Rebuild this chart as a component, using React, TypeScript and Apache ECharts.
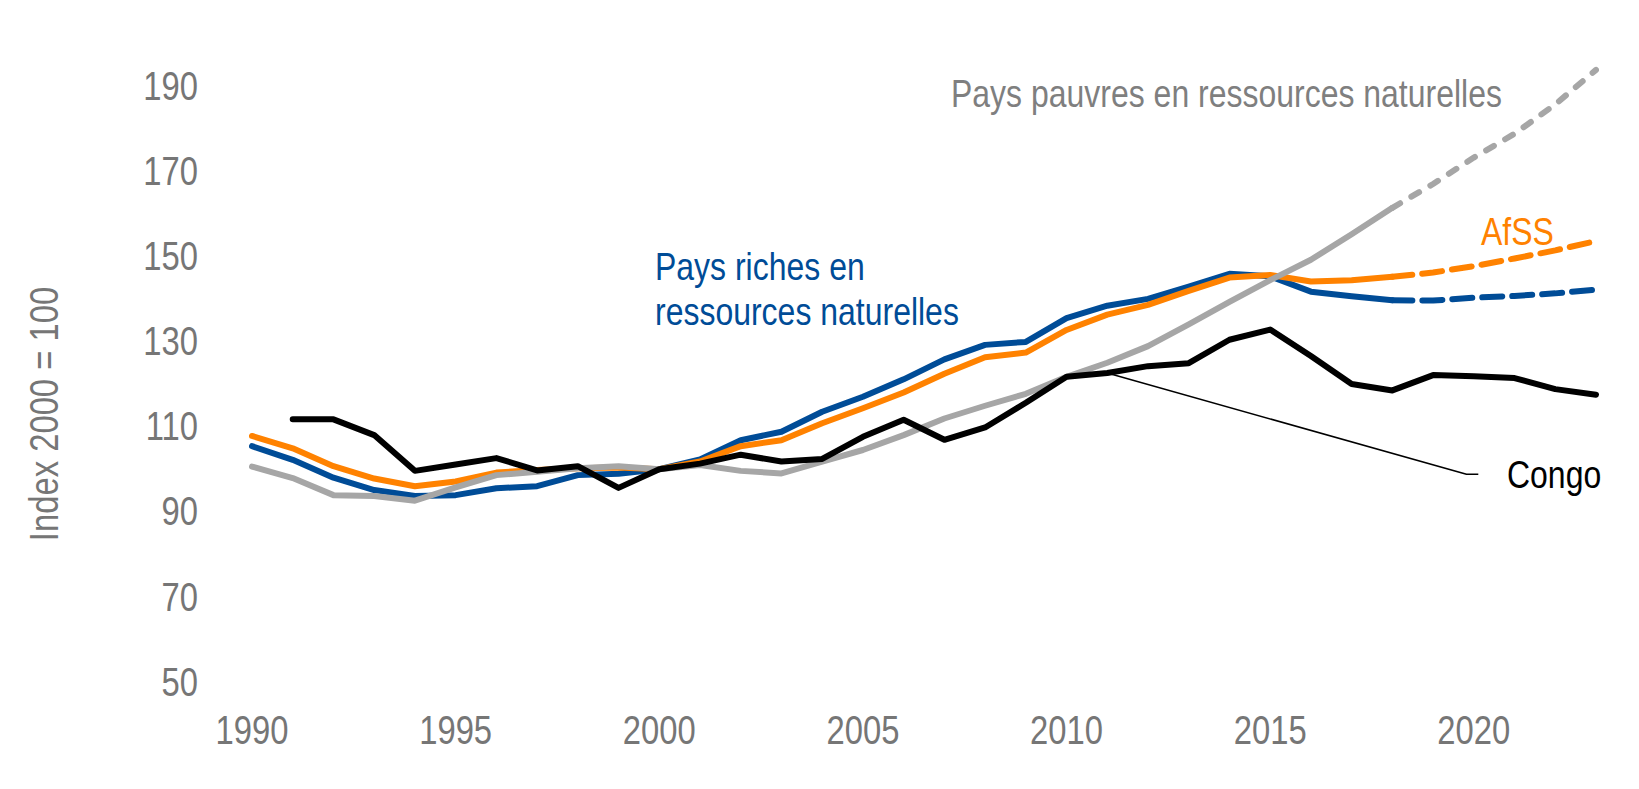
import React, { useEffect, useRef } from "react";
import * as echarts from "echarts";

const years: number[] = [];
for (let y = 1990; y <= 2023; y++) years.push(y);

// Tick labels
const xTickLabels = [1990, 1995, 2000, 2005, 2010, 2015, 2020];
const yTickLabels = [50, 70, 90, 110, 130, 150, 170, 190];

// Pays riches en ressources naturelles (1990-2018 observed, 2018-2023 projection)
const richesObs = [105.4, 102.2, 98.0, 95.1, 93.7, 93.9, 95.5, 96.0, 98.6, 98.9, 100, 102.3, 106.8, 108.8, 113.5, 117.0, 121.1, 125.8, 129.2, 129.9, 135.5, 138.4, 140.0, 142.9, 145.9, 145.3, 141.7, 140.6, 139.7];
const richesProj = [139.7, 139.6, 140.3, 140.7, 141.3, 142.2];

// AfSS
const afssObs = [107.8, 104.9, 100.7, 97.8, 96.0, 97.1, 99.2, 99.8, 100.2, 100.4, 100, 101.8, 105.4, 106.8, 110.8, 114.3, 118.0, 122.4, 126.3, 127.4, 132.7, 136.3, 138.6, 141.9, 145.0, 145.6, 144.1, 144.4, 145.2];
const afssProj = [145.2, 146.2, 147.7, 149.5, 151.4, 153.6];

// Pays pauvres en ressources naturelles
const pauvresObs = [100.6, 97.9, 93.9, 93.7, 92.6, 95.7, 98.6, 99.4, 100.2, 100.7, 100, 101.0, 99.6, 99.0, 101.8, 104.5, 108.0, 111.9, 114.9, 117.7, 121.7, 125.0, 128.9, 134.0, 139.3, 144.4, 149.2, 155.2, 161.4];
const pauvresProj = [161.4, 167.0, 173.2, 178.8, 185.7, 193.8];

// Congo (from 1991)
const congo = [null, 111.7, 111.7, 108.0, 99.6, 101.1, 102.6, 99.7, 100.7, 95.6, 100, 101.3, 103.4, 101.8, 102.4, 107.6, 111.6, 106.9, 109.8, 115.6, 121.7, 122.6, 124.2, 124.9, 130.4, 132.8, 126.6, 120.0, 118.5, 122.1, 121.8, 121.4, 118.8, 117.5];

// Leader line for the Congo label (data coordinates)
const congoLeader = [[2011, 122.6], [2019.82, 98.8], [2020.11, 98.8]];

const PROJ_START = 2018;

const FONT = "'Liberation Sans', Arial, sans-serif";
const NARROW = 0.82;
const BLUE = "#004C97";
const ORANGE = "#FF8200";
const GREY = "#A6A6A6";
const TEXT_GREY = "#767676";

function obsPairs(vals: (number | null)[]) {
  return vals.map((v, i) => [years[i], v]);
}
function projPairs(vals: number[]) {
  return vals.map((v, i) => [PROJ_START + i, v]);
}

function narrowText(
  text: string,
  x: number,
  y: number,
  size: number,
  fill: string,
  align: string,
  extra: any = {}
) {
  return {
    type: "text",
    x,
    y,
    scaleX: NARROW,
    silent: true,
    ...extra,
    style: {
      text,
      x: 0,
      y: 0,
      fill,
      font: `${size}px ${FONT}`,
      align,
      verticalAlign: "middle",
    },
  };
}

export default function App() {
  const ref = useRef<HTMLDivElement>(null);
  useEffect(() => {
    if (!ref.current) return;
    const chart = echarts.init(ref.current, undefined, { renderer: "svg" });
    const solid = (name: string, color: string, data: any[], width: number) => ({
      name,
      type: "line",
      data,
      showSymbol: false,
      symbol: "none",
      lineStyle: { color, width, cap: "round", join: "round" },
      z: 2,
    });
    const dashed = (name: string, color: string, data: any[], width: number, dash: number[]) => ({
      name,
      type: "line",
      data,
      showSymbol: false,
      symbol: "none",
      lineStyle: { color, width, type: dash, cap: "round", join: "round" },
      z: 2,
    });
    chart.setOption({
      animation: false,
      backgroundColor: "#ffffff",
      textStyle: { fontFamily: FONT },
      grid: { left: 252, right: 43, top: 43.5, bottom: 107, containLabel: false },
      xAxis: {
        type: "value",
        min: 1990,
        max: 2023,
        interval: 5,
        axisLine: { show: false },
        axisTick: { show: false },
        splitLine: { show: false },
        axisLabel: { show: false },
      },
      yAxis: {
        type: "value",
        min: 50,
        max: 200,
        interval: 10,
        axisLine: { show: false },
        axisTick: { show: false },
        splitLine: { show: false },
        axisLabel: { show: false },
      },
      series: [
        solid("Pays riches en ressources naturelles", BLUE, obsPairs(richesObs), 6),
        dashed("Pays riches (projection)", BLUE, projPairs(richesProj), 6, [20, 10]),
        solid("AfSS", ORANGE, obsPairs(afssObs), 6),
        dashed("AfSS (projection)", ORANGE, projPairs(afssProj), 6, [20, 10]),
        solid("Pays pauvres en ressources naturelles", GREY, obsPairs(pauvresObs), 6),
        dashed("Pays pauvres (projection)", GREY, projPairs(pauvresProj), 6, [9, 13]),
        solid("Congo", "#000000", obsPairs(congo), 6),
        {
          name: "Congo leader",
          type: "line",
          data: congoLeader,
          showSymbol: false,
          symbol: "none",
          lineStyle: { color: "#000000", width: 1.5 },
          z: 1,
        },
      ],
    });

    // Axis tick labels placed through the chart's own scales
    const graphics: any[] = [];
    xTickLabels.forEach((t) => {
      const p = chart.convertToPixel({ gridIndex: 0 }, [t, 50]) as number[];
      graphics.push(narrowText(String(t), p[0], p[1] + 48, 40, TEXT_GREY, "center"));
    });
    yTickLabels.forEach((t) => {
      const p = chart.convertToPixel({ gridIndex: 0 }, [1990, t]) as number[];
      graphics.push(narrowText(String(t), p[0] - 54, p[1], 40, TEXT_GREY, "right"));
    });
    // Axis title
    graphics.push(
      narrowText("Index 2000 = 100", 44, 414, 40, TEXT_GREY, "center", { rotation: Math.PI / 2 })
    );
    // Annotations
    graphics.push(narrowText("Pays pauvres en ressources naturelles", 951, 94, 39, "#7F7F7F", "left"));
    graphics.push(narrowText("Pays riches en", 655, 266.5, 39, BLUE, "left"));
    graphics.push(narrowText("ressources naturelles", 655, 311.5, 39, BLUE, "left"));
    graphics.push(narrowText("AfSS", 1481, 231.5, 39, ORANGE, "left"));
    graphics.push(narrowText("Congo", 1507, 474.5, 39, "#000000", "left"));

    chart.setOption({ graphic: graphics });
    return () => chart.dispose();
  }, []);
  return (
    <div
      ref={ref}
      style={{ position: "fixed", left: 0, top: 0, width: 1639, height: 789, background: "#fff" }}
    />
  );
}
